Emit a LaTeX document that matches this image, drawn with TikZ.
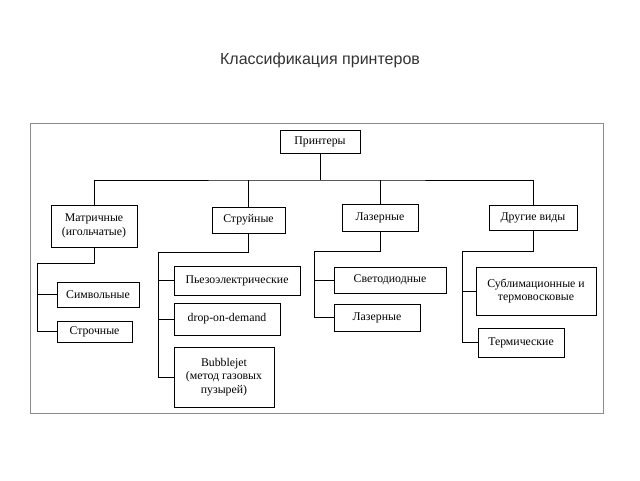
\documentclass[tikz,border=0pt]{standalone}
\usepackage{fontspec}
\setmainfont{Liberation Serif}
\newfontfamily\titlefont{Liberation Sans}
\usepackage{tikz}
\tikzset{
    box/.style={draw, rectangle, inner sep=0pt, align=center, font=\fontsize{11.8}{13.8}\selectfont},
    link/.style={draw, line width=0.8pt}
}

\begin{document}
\begin{tikzpicture}[x=1pt, y=-1pt]
    \useasboundingbox (0,0) rectangle (640,480);
    \node[font=\titlefont\fontsize{16}{18}\selectfont, text=black!80](title) at (320,60) {Классификация принтеров};
    \draw[black!45, line width=1pt] (30,123) rectangle (603,413);
    % Top level
    \node[box, minimum width=80, minimum height=23](printers) at (320,141.5) {Принтеры};
    \node[box, minimum width=86, minimum height=42](matr)     at (94,226)    {Матричные\\(игольчатые)};
    \node[box, minimum width=73, minimum height=26](jet)      at (248.5,220) {Струйные};
    \node[box, minimum width=76, minimum height=27](laser)    at (380,217.5) {Лазерные};
    \node[box, minimum width=88, minimum height=25](other)    at (533,217.5) {Другие виды};
    % Second level
    \node[box, minimum width=82, minimum height=25](simv)     at (98,294.5)  {Символьные};
    \node[box, minimum width=75, minimum height=21](strok)    at (94.5,331.5) {Строчные};
    \node[box, minimum width=126, minimum height=29](piezo)   at (237,280.5) {Пьезоэлектрические};
    \node[box, minimum width=106, minimum height=32](drop)    at (227,319)   {drop-on-demand};
    \node[box, minimum width=100, minimum height=60](bubble)  at (224,377)   {Bubblejet\\(метод газовых\\пузырей)};
    \node[box, minimum width=112, minimum height=26](svet)    at (390,280)   {Светодиодные};
    \node[box, minimum width=86, minimum height=27](laser2)   at (377,317.5) {Лазерные};
    \node[box, minimum width=120, minimum height=48](subl)    at (536,291)   {Сублимационные и\\термовосковые};
    \node[box, minimum width=86, minimum height=29](term)     at (521,342.5) {Термические};
    % Bus points
    \coordinate (bus)   at (320,180);
    \coordinate (m-bus) at (37,263);
    \coordinate (j-bus) at (158,252);
    \coordinate (l-bus) at (314,251);
    \coordinate (o-bus) at (462,251);
    % Links
    \path[link] (printers) -- (bus);
    \path[link] (matr.north) |- (bus) -| (other.north);
    \path[link] (jet.north) -- (jet.north |- bus);
    \path[link] (laser.north) -- (laser.north |- bus);
    \path[link] (matr.south) |- (m-bus) |- (strok.west);
    \path[link] (m-bus |- simv.west) -- (simv.west);
    \path[link] (jet.south) |- (j-bus) |- (bubble.west);
    \path[link] (j-bus |- piezo.west) -- (piezo.west);
    \path[link] (j-bus |- drop.west) -- (drop.west);
    \path[link] (laser.south) |- (l-bus) |- (laser2.west);
    \path[link] (l-bus |- svet.west) -- (svet.west);
    \path[link] (other.south) |- (o-bus) |- (term.west);
    \path[link] (o-bus |- subl.west) -- (subl.west);
\end{tikzpicture}
\end{document}
